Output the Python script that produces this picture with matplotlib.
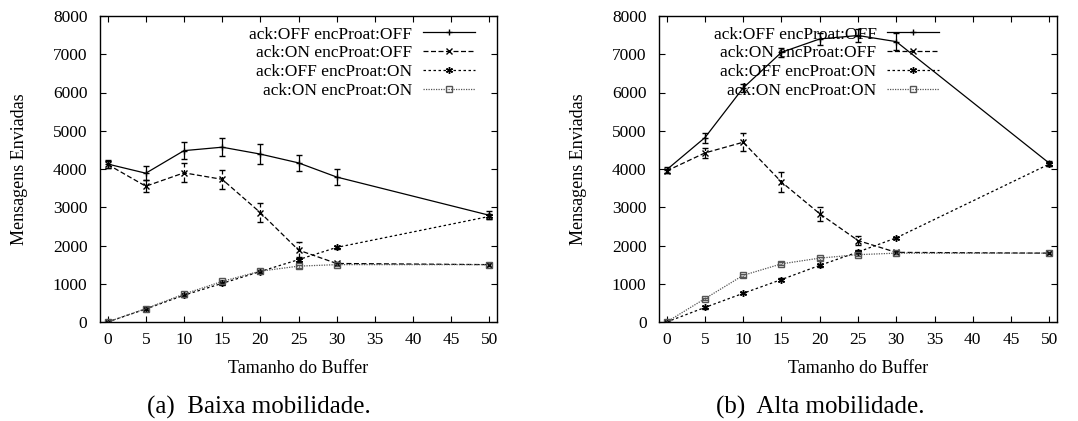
import numpy as np
import matplotlib
matplotlib.use("Agg")
from matplotlib import pyplot as plt
from matplotlib.lines import Line2D

plt.rcParams['font.family'] = ['Liberation Serif', 'DejaVu Serif']

buffer_sizes = [0, 5, 10, 15, 20, 25, 30, 50]
labels = ["ack:OFF encProat:OFF", "ack:ON encProat:OFF",
          "ack:OFF encProat:ON", "ack:ON encProat:ON"]

# (a) Baixa mobilidade
baixa_off_off = [4130, 3890, 4480, 4570, 4390, 4160, 3790, 2790]
baixa_off_off_err = [110, 180, 230, 230, 270, 200, 220, 100]
baixa_on_off = [4120, 3550, 3900, 3730, 2860, 1880, 1530, 1500]
baixa_on_off_err = [100, 150, 250, 240, 250, 200, 50, 30]
baixa_off_on = [0, 340, 700, 1010, 1320, 1630, 1950, 2760]
baixa_off_on_err = [20, 30, 40, 40, 40, 60, 40, 60]
baixa_on_on = [0, 350, 730, 1060, 1330, 1460, 1500, 1500]
baixa_on_on_err = [20, 30, 40, 40, 40, 40, 30, 30]

# (b) Alta mobilidade
alta_off_off = [3980, 4820, 6120, 7050, 7400, 7490, 7330, 4150]
alta_off_off_err = [80, 130, 100, 120, 150, 180, 220, 60]
alta_on_off = [3950, 4420, 4700, 3660, 2830, 2130, 1820, 1800]
alta_on_off_err = [60, 130, 240, 260, 180, 120, 40, 30]
alta_off_on = [0, 380, 750, 1110, 1480, 1830, 2200, 4130]
alta_off_on_err = [20, 30, 30, 30, 30, 40, 30, 60]
alta_on_on = [0, 610, 1220, 1520, 1670, 1760, 1800, 1800]
alta_on_on_err = [20, 30, 40, 40, 40, 40, 30, 30]

styles = [
    dict(color="black", ls="-", marker="+", ms=5, mew=1.0, mfc="none"),
    dict(color="black", ls=(0, (4, 2)), marker="x", ms=4, mew=1.0, mfc="none"),
    dict(color="black", ls=(0, (2, 2)), marker=(6, 2, 0), ms=5, mew=1.0, mfc="none"),
    dict(color="#555555", ls=(0, (1, 1)), marker="s", ms=4, mew=1.0, mfc="none"),
]


def draw_panel(ax, series, legend_right):
    handles = []
    for (vals, errs), st in zip(series, styles):
        line, caps, bars = ax.errorbar(buffer_sizes, vals, yerr=errs,
                                       capsize=2.2, elinewidth=0.9, lw=0.9, **st)
        for b in bars:
            b.set_linestyle(st["ls"])
        handles.append(Line2D([], [], lw=0.9, **st))
    ax.set_xlim(-1, 51)
    ax.set_ylim(0, 8000)
    ax.set_xticks(range(0, 51, 5))
    ax.set_yticks(range(0, 8001, 1000))
    ax.tick_params(direction="in", top=True, right=True, length=4, labelsize=12.5)
    ax.tick_params(axis="y", pad=9)
    ax.tick_params(axis="x", pad=7)
    for s in ax.spines.values():
        s.set_linewidth(1.0)
    ax.set_xlabel("Tamanho do Buffer", fontsize=13, labelpad=9)
    ax.set_ylabel("Mensagens Enviadas", fontsize=13, labelpad=18)
    ax.legend(handles, labels, loc="upper right", bbox_to_anchor=(legend_right, 1.0),
              frameon=False, markerfirst=False, fontsize=12.5, handlelength=3.0,
              labelspacing=0.15, handletextpad=0.6, borderaxespad=0.2)


fig = plt.figure(figsize=(10.78, 4.21), dpi=100)
ax1 = fig.add_axes([100 / 1078, 99 / 421, 397 / 1078, 306 / 421])
ax2 = fig.add_axes([659 / 1078, 99 / 421, 398 / 1078, 306 / 421])

draw_panel(ax1, [(baixa_off_off, baixa_off_off_err), (baixa_on_off, baixa_on_off_err),
                 (baixa_off_on, baixa_off_on_err), (baixa_on_on, baixa_on_on_err)], 0.97)
draw_panel(ax2, [(alta_off_off, alta_off_off_err), (alta_on_off, alta_on_off_err),
                 (alta_off_on, alta_off_on_err), (alta_on_on, alta_on_on_err)], 0.73)

fig.text(259 / 1078, 1 - 407 / 421, "(a)  Baixa mobilidade.", ha="center", va="center", fontsize=18)
fig.text(820 / 1078, 1 - 407 / 421, "(b)  Alta mobilidade.", ha="center", va="center", fontsize=18)

fig.savefig("out.png", dpi=100)
